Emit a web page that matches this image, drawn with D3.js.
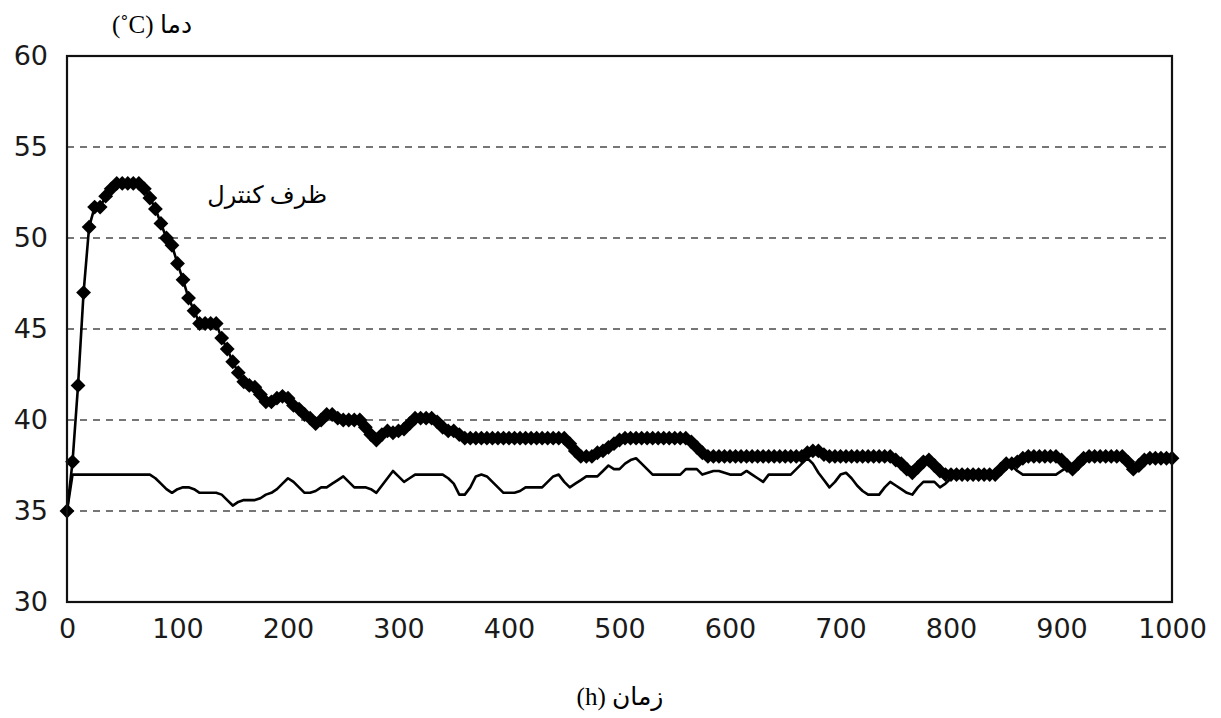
<!DOCTYPE html>
<html>
<head>
<meta charset="utf-8">
<script src="https://cdn.jsdelivr.net/npm/d3@7"></script>
<style>
  body { margin: 0; background: #fff; }
  svg { display: block; }
</style>
</head>
<body>
<script>
// hours: one reading every 5 h, 0..1000
var hours = d3.range(0, 1001, 5);

// control vessel temperature (diamond series)
var controlTemp = [
  35.0, 37.7, 41.9, 47.0, 50.6, 51.7, 51.7, 52.3, 52.7, 53.0,
  53.0, 53.0, 53.0, 53.0, 52.7, 52.2, 51.6, 50.8, 50.0, 49.6,
  48.6, 47.7, 46.7, 46.0, 45.3, 45.3, 45.3, 45.3, 44.5, 43.9,
  43.2, 42.6, 42.1, 41.9, 41.8, 41.4, 41.0, 41.0, 41.2, 41.3,
  41.2, 40.8, 40.6, 40.3, 40.1, 39.8, 40.0, 40.3, 40.3, 40.1,
  40.0, 40.0, 40.0, 40.0, 39.6, 39.2, 38.9, 39.2, 39.4, 39.3,
  39.4, 39.5, 39.8, 40.1, 40.1, 40.1, 40.1, 39.9, 39.6, 39.4,
  39.4, 39.2, 39.0, 39.0, 39.0, 39.0, 39.0, 39.0, 39.0, 39.0,
  39.0, 39.0, 39.0, 39.0, 39.0, 39.0, 39.0, 39.0, 39.0, 39.0,
  39.0, 38.7, 38.3, 38.0, 38.0, 38.0, 38.2, 38.3, 38.5, 38.7,
  38.9, 39.0, 39.0, 39.0, 39.0, 39.0, 39.0, 39.0, 39.0, 39.0,
  39.0, 39.0, 39.0, 38.8, 38.5, 38.2, 38.0, 38.0, 38.0, 38.0,
  38.0, 38.0, 38.0, 38.0, 38.0, 38.0, 38.0, 38.0, 38.0, 38.0,
  38.0, 38.0, 38.0, 38.0, 38.2, 38.3, 38.3, 38.1, 38.0, 38.0,
  38.0, 38.0, 38.0, 38.0, 38.0, 38.0, 38.0, 38.0, 38.0, 38.0,
  37.8, 37.6, 37.3, 37.1, 37.4, 37.7, 37.8, 37.5, 37.2, 37.0,
  37.0, 37.0, 37.0, 37.0, 37.0, 37.0, 37.0, 37.0, 37.0, 37.3,
  37.6, 37.6, 37.7, 37.9, 38.0, 38.0, 38.0, 38.0, 38.0, 38.0,
  37.8, 37.5, 37.3, 37.6, 37.9, 38.0, 38.0, 38.0, 38.0, 38.0,
  38.0, 38.0, 37.7, 37.3, 37.5, 37.8, 37.9, 37.9, 37.9, 37.9,
  37.9
];

// second vessel temperature (plain line)
var otherTemp = [
  35.0, 37.0, 37.0, 37.0, 37.0, 37.0, 37.0, 37.0, 37.0, 37.0,
  37.0, 37.0, 37.0, 37.0, 37.0, 37.0, 36.8, 36.5, 36.2, 36.0,
  36.2, 36.3, 36.3, 36.2, 36.0, 36.0, 36.0, 36.0, 35.9, 35.6,
  35.3, 35.5, 35.6, 35.6, 35.6, 35.7, 35.9, 36.0, 36.2, 36.5,
  36.8, 36.6, 36.3, 36.0, 36.0, 36.1, 36.3, 36.3, 36.5, 36.7,
  36.9, 36.6, 36.3, 36.3, 36.3, 36.2, 36.0, 36.4, 36.8, 37.2,
  36.9, 36.6, 36.8, 37.0, 37.0, 37.0, 37.0, 37.0, 37.0, 36.8,
  36.5, 35.9, 35.9, 36.3, 36.9, 37.0, 36.9, 36.6, 36.3, 36.0,
  36.0, 36.0, 36.1, 36.3, 36.3, 36.3, 36.3, 36.6, 36.9, 37.0,
  36.6, 36.3, 36.5, 36.7, 36.9, 36.9, 36.9, 37.2, 37.5, 37.3,
  37.3, 37.6, 37.8, 37.9, 37.6, 37.3, 37.0, 37.0, 37.0, 37.0,
  37.0, 37.0, 37.3, 37.3, 37.3, 37.0, 37.1, 37.2, 37.2, 37.1,
  37.0, 37.0, 37.0, 37.2, 37.0, 36.8, 36.6, 37.0, 37.0, 37.0,
  37.0, 37.0, 37.3, 37.6, 37.9, 37.6, 37.1, 36.7, 36.3, 36.6,
  37.0, 37.1, 36.8, 36.4, 36.1, 35.9, 35.9, 35.9, 36.3, 36.6,
  36.4, 36.2, 36.0, 35.9, 36.3, 36.6, 36.6, 36.6, 36.3, 36.5,
  36.8, 37.0, 37.0, 37.0, 37.0, 37.0, 37.0, 37.0, 37.0, 37.2,
  37.5, 37.5, 37.2, 37.0, 37.0, 37.0, 37.0, 37.0, 37.0, 37.0,
  37.2, 37.4, 37.5, 37.6, 37.8, 37.9, 37.9, 37.9, 37.9, 37.9,
  37.9, 37.9, 37.7, 37.4, 37.5, 37.8, 37.9, 37.9, 37.9, 37.9,
  37.9
];

var xTicks = [0, 100, 200, 300, 400, 500, 600, 700, 800, 900, 1000];
var yTicks = [30, 35, 40, 45, 50, 55, 60];
var gridValues = [35, 40, 45, 50, 55];

var yLabel = "(˚C) دما";
var xLabel = "(h) زمان";
var seriesLabel = "ظرف کنترل";

var W = 1221, H = 718;
var margin = {top: 56, right: 49, bottom: 116, left: 67};

var svg = d3.select("body").append("svg")
  .attr("width", W)
  .attr("height", H);

var x = d3.scaleLinear().domain([0, 1000]).range([margin.left, W - margin.right]);
var y = d3.scaleLinear().domain([30, 60]).range([H - margin.bottom, margin.top]);

// dashed grid lines
svg.append("g")
  .selectAll("line")
  .data(gridValues)
  .enter().append("line")
  .attr("x1", x(0)).attr("x2", x(1000))
  .attr("y1", function(d) { return y(d); })
  .attr("y2", function(d) { return y(d); })
  .attr("stroke", "#4a4a4a")
  .attr("stroke-width", 1.7)
  .attr("stroke-dasharray", "7,6");

var tempLine = d3.line()
  .x(function(d, i) { return x(hours[i]); })
  .y(function(d) { return y(d); });

svg.append("path")
  .datum(otherTemp)
  .attr("fill", "none")
  .attr("stroke", "#000")
  .attr("stroke-width", 2.6)
  .attr("stroke-linejoin", "round")
  .attr("d", tempLine);

svg.append("path")
  .datum(controlTemp)
  .attr("fill", "none")
  .attr("stroke", "#000")
  .attr("stroke-width", 2.6)
  .attr("d", tempLine);

// diamonds on the control series
var diamond = d3.symbol().type(d3.symbolSquare).size(110);
svg.append("g")
  .selectAll("path")
  .data(controlTemp)
  .enter().append("path")
  .attr("d", diamond)
  .attr("fill", "#000")
  .attr("transform", function(d, i) {
    return "translate(" + x(hours[i]) + "," + y(d) + ") rotate(45)";
  });

// axes (labels only, no tick marks)
var xAxis = svg.append("g")
  .attr("transform", "translate(0," + (H - margin.bottom) + ")")
  .call(d3.axisBottom(x).tickValues(xTicks).tickSize(0).tickPadding(17).tickFormat(d3.format("d")));
var yAxis = svg.append("g")
  .attr("transform", "translate(" + margin.left + ",0)")
  .call(d3.axisLeft(y).tickValues(yTicks).tickSize(0).tickPadding(19).tickFormat(d3.format("d")));

[xAxis, yAxis].forEach(function(a) {
  a.select(".domain").remove();
  a.selectAll("text")
    .attr("font-family", "'DejaVu Sans', Verdana, sans-serif")
    .attr("font-size", 27)
    .attr("fill", "#1a1a1a");
});

// plot frame
svg.append("rect")
  .attr("x", x(0)).attr("y", y(60))
  .attr("width", x(1000) - x(0))
  .attr("height", y(30) - y(60))
  .attr("fill", "none")
  .attr("stroke", "#111")
  .attr("stroke-width", 2.2);

var serif = "'Liberation Serif', 'Times New Roman', 'DejaVu Sans', serif";

svg.append("text")
  .attr("x", 152).attr("y", 33)
  .attr("text-anchor", "middle")
  .attr("font-family", serif)
  .attr("font-size", 25)
  .text(yLabel);

svg.append("text")
  .attr("x", 620).attr("y", 705)
  .attr("text-anchor", "middle")
  .attr("font-family", serif)
  .attr("font-size", 25)
  .text(xLabel);

svg.append("text")
  .attr("x", 327).attr("y", 203)
  .attr("text-anchor", "end")
  .attr("font-family", serif)
  .attr("font-size", 24)
  .text(seriesLabel);
</script>
</body>
</html>
